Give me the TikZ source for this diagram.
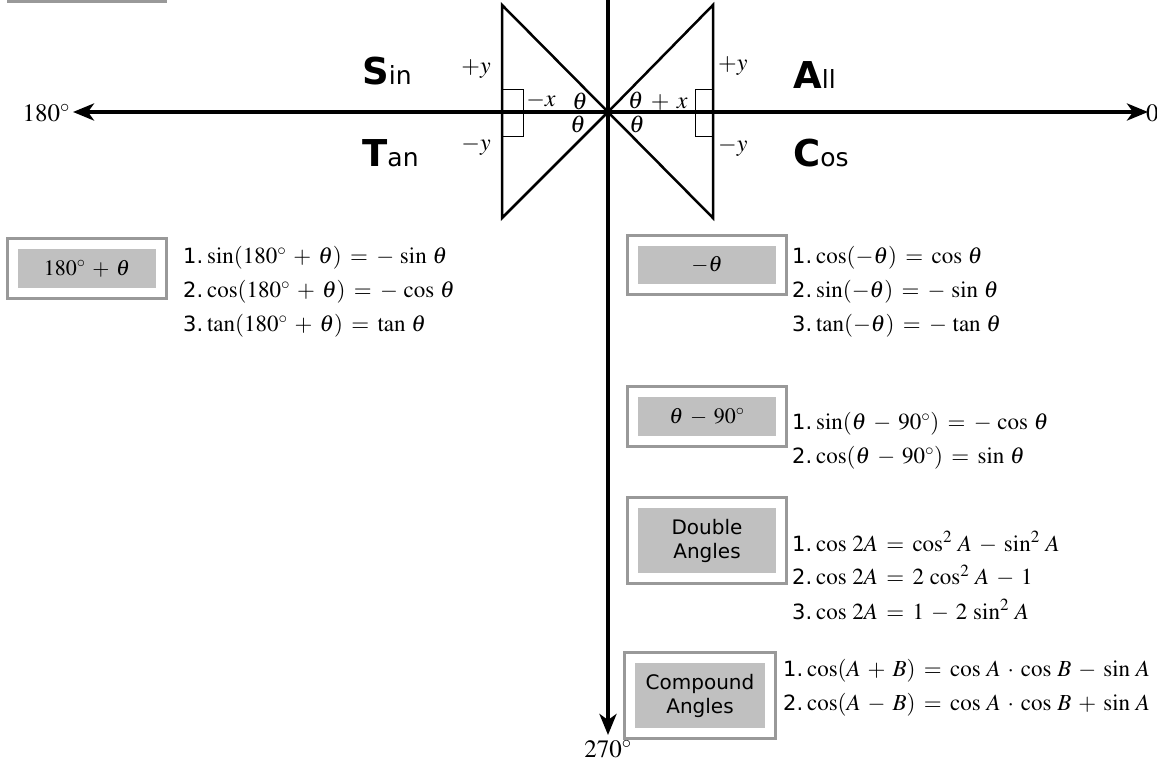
\documentclass[tikz,border=0pt]{standalone}
\usepackage{mathptmx}
\usepackage[no-math]{fontspec}
\setmainfont{Liberation Serif}
\setsansfont{DejaVu Sans}
\usetikzlibrary{arrows.meta}
\definecolor{framegray}{HTML}{999999}
\definecolor{boxgray}{HTML}{C0C0C0}
\tikzset{
  axisline/.style={line width=4pt, -{Stealth[length=21pt,width=17pt,inset=6pt]}},
  tri/.style={line width=2.5pt, line join=miter},
  rangle/.style={line width=0.8pt},
  lbl/.style={font=\fontsize{24}{28}\selectfont, inner sep=0pt},
  axlbl/.style={font=\fontsize{25}{28}\selectfont, inner sep=0pt},
  quad/.style={anchor=west, inner sep=0pt},
  catbox/.style={fill=boxgray, inner sep=0pt, align=center},
  catmath/.style={catbox, font=\fontsize{22}{26}\selectfont},
  catsans/.style={catbox, font=\sffamily\fontsize{20}{24}\selectfont},
  frame/.style={draw=framegray, line width=3pt},
  eq/.style={anchor=west, inner sep=0pt, font=\fontsize{23}{26}\selectfont},
}
\newcommand{\nm}[1]{{\sffamily\fontsize{21}{24}\selectfont #1}\,}
\newcommand{\quadname}[2]{{\sffamily\fontsize{37}{37}\selectfont\bfseries #1\fontsize{25}{25}\selectfont\mdseries #2}}
\begin{document}
\begin{tikzpicture}[x=1pt,y=-1pt]
\thinmuskip=4.5mu
\medmuskip=5.5mu
\thickmuskip=6.5mu
\useasboundingbox (0,0) rectangle (1157,767);
% axes
\coordinate (O) at (608,112);
\coordinate (W) at (73,112);
\coordinate (E) at (1148,112);
\coordinate (N) at (608,-10);
\coordinate (S) at (608,735);
\draw[line width=4pt] (O) -- (N);
\draw[axisline] (O) -- (W);
\draw[axisline] (O) -- (E);
\draw[axisline] (O) -- (S);
\node[axlbl, anchor=east] (l180) at (70,113) {$180^\circ$};
\node[axlbl, anchor=west] (l0) at (1146,113) {$0$};
\node[axlbl, anchor=north] (l270) at (608,740) {$270^\circ$};
% triangles
\coordinate (LT) at (502,5);
\coordinate (LB) at (502,218);
\coordinate (RT) at (713,5);
\coordinate (RB) at (713,218);
\draw[tri] (O) -- (LT) -- (LB) -- cycle;
\draw[tri] (O) -- (RT) -- (RB) -- cycle;
\draw[rangle] (502,89) rectangle (523,136);
\draw[rangle] (713,89) rectangle (695,136);
% triangle labels
\node[lbl] (lpy) at (476,69) {$+y$};
\node[lbl] (lmy) at (476,146) {$-y$};
\node[lbl] (lmx) at (541,101) {$-x$};
\node[lbl] (lt1) at (580,101) {$\theta$};
\node[lbl] (lt2) at (578,124) {$\theta$};
\node[lbl, anchor=west] (rtx) at (628,101) {$\theta+x$};
\node[lbl] (rt2) at (637,124) {$\theta$};
\node[lbl, anchor=west] (rpy) at (718,66) {$+y$};
\node[lbl, anchor=west] (rmy) at (718,147) {$-y$};
% quadrant names
\node[quad] (qs) at (362,71) {\quadname{S}{in}};
\node[quad] (qt) at (362,153) {\quadname{T}{an}};
\node[quad] (qa) at (793,75) {\quadname{A}{ll}};
\node[quad] (qc) at (793,153) {\quadname{C}{os}};
% top-left frame (cut off)
\draw[frame] (8.5,-80) rectangle (165.5,1.5);
% boxes
\node[catmath, minimum width=138pt, minimum height=39pt] (b180) at (87,268.5) {$180^\circ+\theta$};
\draw[frame] ([shift={(-10.5pt,10.5pt)}]b180.north west) rectangle ([shift={(10.5pt,-10.5pt)}]b180.south east);
\node[catmath, minimum width=138pt, minimum height=38pt] (bneg) at (707,265) {$-\theta$};
\draw[frame] ([shift={(-10.5pt,10.5pt)}]bneg.north west) rectangle ([shift={(10.5pt,-10.5pt)}]bneg.south east);
\node[catmath, minimum width=138pt, minimum height=39pt] (b90) at (707,416.5) {$\theta-90^\circ$};
\draw[frame] ([shift={(-10.5pt,10.5pt)}]b90.north west) rectangle ([shift={(10.5pt,-10.5pt)}]b90.south east);
\node[catsans, minimum width=138pt, minimum height=65pt] (bdbl) at (707,540.5) {Double\\Angles};
\draw[frame] ([shift={(-10.5pt,10.5pt)}]bdbl.north west) rectangle ([shift={(10.5pt,-10.5pt)}]bdbl.south east);
\node[catsans, minimum width=130pt, minimum height=65pt] (bcmp) at (700,695.5) {Compound\\Angles};
\draw[frame] ([shift={(-10.5pt,10.5pt)}]bcmp.north west) rectangle ([shift={(10.5pt,-10.5pt)}]bcmp.south east);
% formulas
\node[eq] (e11) at (183,258) {\nm{1.}$\sin(180^\circ+\theta)=-\sin\theta$};
\node[eq] (e12) at (183,292) {\nm{2.}$\cos(180^\circ+\theta)=-\cos\theta$};
\node[eq] (e13) at (183,326) {\nm{3.}$\tan(180^\circ+\theta)=\tan\theta$};
\node[eq] (e21) at (792,258) {\nm{1.}$\cos(-\theta)=\cos\theta$};
\node[eq] (e22) at (792,292) {\nm{2.}$\sin(-\theta)=-\sin\theta$};
\node[eq] (e23) at (792,326) {\nm{3.}$\tan(-\theta)=-\tan\theta$};
\node[eq] (e31) at (792,424) {\nm{1.}$\sin(\theta-90^\circ)=-\cos\theta$};
\node[eq] (e32) at (792,458) {\nm{2.}$\cos(\theta-90^\circ)=\sin\theta$};
\node[eq] (e41) at (792,542) {\nm{1.}$\cos 2A=\cos^2 A-\sin^2 A$};
\node[eq] (e42) at (792,576) {\nm{2.}$\cos 2A=2\cos^2 A-1$};
\node[eq] (e43) at (792,610) {\nm{3.}$\cos 2A=1-2\sin^2 A$};
\node[eq] (e51) at (783,671) {\nm{1.}$\cos(A+B)=\cos A\cdot\cos B-\sin A$};
\node[eq] (e52) at (783,705) {\nm{2.}$\cos(A-B)=\cos A\cdot\cos B+\sin A$};
\end{tikzpicture}
\end{document}
